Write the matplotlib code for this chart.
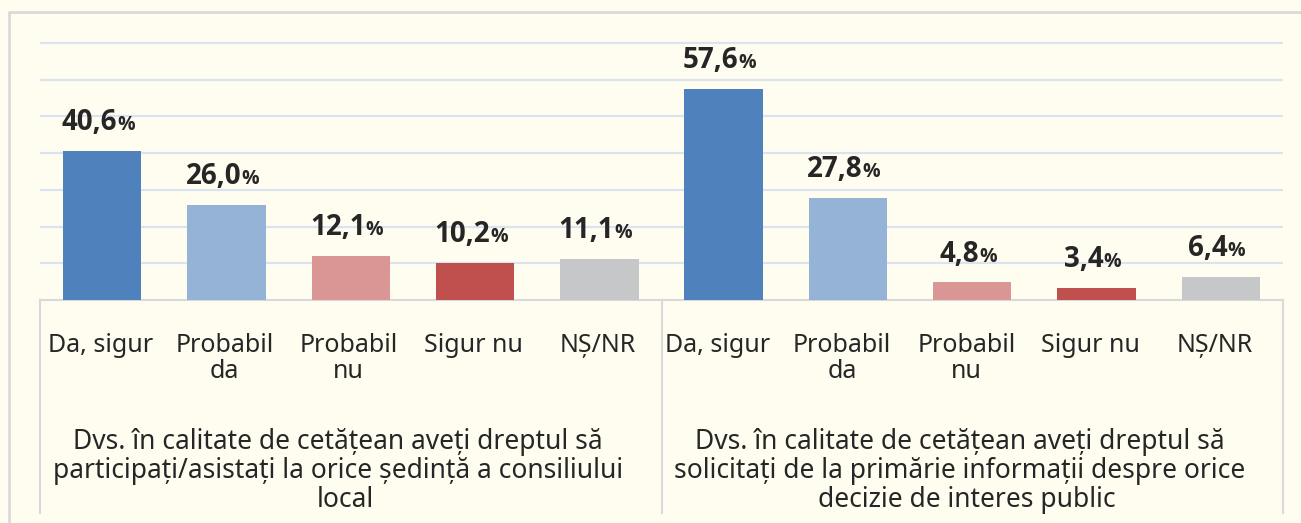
import matplotlib
matplotlib.use('Agg')
import matplotlib.pyplot as plt
from matplotlib.lines import Line2D
from matplotlib.transforms import blended_transform_factory, offset_copy
from matplotlib import font_manager as fm
import numpy as np

# ---- data ----
categories = ['Da, sigur', 'Probabil\nda', 'Probabil\nnu', 'Sigur nu', 'NȘ/NR']
groups = ['Dvs. în calitate de cetățean aveți dreptul să\nparticipați/asistați la orice ședință a consiliului\nlocal',
          'Dvs. în calitate de cetățean aveți dreptul să\nsolicitați de la primărie informații despre orice\ndecizie de interes public']
values_g1 = [40.6, 26.0, 12.1, 10.2, 11.1]
values_g2 = [57.6, 27.8, 4.8, 3.4, 6.4]
colors = ['#4F81BD', '#95B3D7', '#D99694', '#C0504D', '#C6C7C9']

plt.rcParams['font.family'] = ['Noto Sans', 'DejaVu Sans']


def bold_family():
    for fam in ['Noto Sans', 'Open Sans', 'Lato', 'Roboto', 'Liberation Sans', 'DejaVu Sans']:
        try:
            path = fm.findfont(fm.FontProperties(family=fam, weight='bold'), fallback_to_default=False)
        except Exception:
            continue
        name = path.lower()
        if 'bold' in name and fam.replace(' ', '').lower() in name.replace(' ', '').replace('-', '').replace('_', ''):
            return fam
    return 'DejaVu Sans'


BOLD_FAM = bold_family()

W, H = 1301, 523
fig = plt.figure(figsize=(W / 100, H / 100), dpi=100)
bg = '#FFFDF0'
fig.patch.set_facecolor(bg)


def fx(px):
    return px / W


def fy(py):
    return 1 - py / H


pix_per_unit = 257 / 70
ymax = 72
top_px = 300 - ymax * pix_per_unit
ax = fig.add_axes([fx(40), fy(300), fx(1283) - fx(40), fy(top_px) - fy(300)])
ax.set_facecolor('none')

values = values_g1 + values_g2
bar_colors = colors * 2
x = np.arange(len(values))
ax.bar(x, values, width=0.63, color=bar_colors, zorder=3)

ax.set_xlim(-0.5, len(values) - 0.5)
ax.set_ylim(0, ymax)
ax.set_yticks(np.arange(10, 71, 10))
ax.yaxis.grid(True, color='#DCE3F0', lw=1.6, zorder=0)
ax.set_axisbelow(True)
ax.tick_params(left=False, labelleft=False, bottom=False, labelbottom=False)
for s in ['left', 'right', 'top']:
    ax.spines[s].set_visible(False)
ax.spines['bottom'].set_color('#D9D9D9')
ax.spines['bottom'].set_linewidth(1.5)

txtcol = '#262626'
renderer = fig.canvas.get_renderer()
for xi, v in zip(x, values):
    num = f'{v:.1f}'.replace('.', ',')
    t1 = ax.annotate(num, xy=(xi, v), xytext=(0, 15), textcoords='offset points',
                     ha='left', va='baseline', fontsize=20, fontweight='bold',
                     family=[BOLD_FAM, 'DejaVu Sans'], color=txtcol)
    t2 = ax.annotate('%', xy=(xi, v), xytext=(0, 15), textcoords='offset points',
                     ha='left', va='baseline', fontsize=14, fontweight='bold',
                     family=[BOLD_FAM, 'DejaVu Sans'], color=txtcol)
    wn = t1.get_window_extent(renderer).width * 72 / 100
    wp = t2.get_window_extent(renderer).width * 72 / 100
    left = -(wn + wp) / 2 - 3
    t1.set_position((left, 15))
    t2.set_position((left + wn, 15))

trans = blended_transform_factory(ax.transData, fig.transFigure)
group_label_shift = [-2, -6]  # pixels
for xi, lab in zip(x, categories * 2):
    tr = offset_copy(trans, fig=fig, x=group_label_shift[xi // 5], y=0, units='dots')
    for li, line in enumerate(lab.split('\n')):
        ax.text(xi, fy(352 + li * 26), line, transform=tr, ha='center', va='baseline',
                fontsize=18, color=txtcol)

for gi, g in enumerate(groups):
    cx = gi * 5 + 2
    lines = g.split('\n')
    for li, line in enumerate(lines):
        shift = -5 if li == len(lines) - 1 else -12.5
        tr = offset_copy(trans, fig=fig, x=shift, y=0, units='dots')
        ax.text(cx, fy(449 + li * 29), line, transform=tr, ha='center', va='baseline',
                fontsize=19, color=txtcol)

for xv in [-0.5, 4.5, len(values) - 0.5]:
    fig.add_artist(Line2D([xv, xv], [fy(300), fy(513)], transform=trans,
                          color='#D9D9D9', lw=1.5))

fig.add_artist(Line2D([fx(9), fx(9), fx(1310)], [fy(530), fy(12), fy(12)],
                      transform=fig.transFigure, color='#DADADA', lw=2))

fig.savefig('out.png', dpi=100, facecolor=bg)
